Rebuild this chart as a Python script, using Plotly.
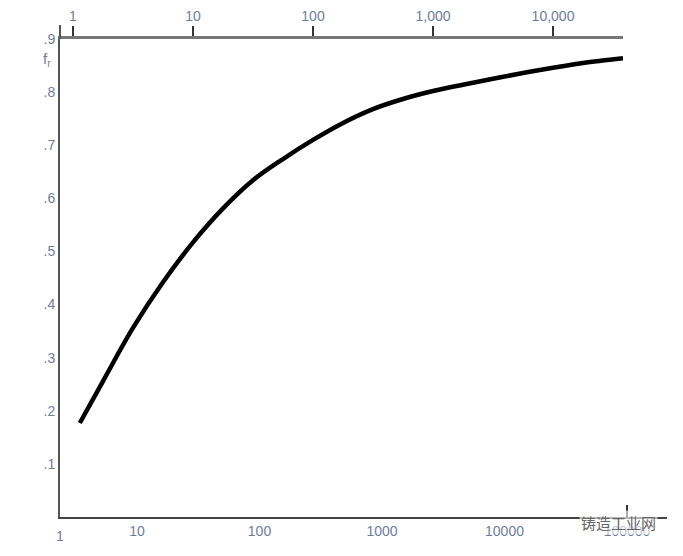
import plotly.graph_objects as go

# Curve data (read against the top log axis)
x_vals = [1.14, 1.78, 3.16, 5.62, 10, 17.8, 31.6, 56.2, 100, 178, 316, 562,
          1000, 1778, 3162, 5623, 10000, 17783, 38300]
f_vals = [0.177, 0.256, 0.356, 0.442, 0.517, 0.581, 0.634, 0.674, 0.710, 0.742,
          0.768, 0.787, 0.802, 0.814, 0.825, 0.836, 0.846, 0.855, 0.864]

y_ticks = [0.1, 0.2, 0.3, 0.4, 0.5, 0.6, 0.7, 0.8, 0.9]
y_ticktext = [".1", ".2", ".3", ".4", ".5", ".6", ".7", ".8", ".9"]
top_ticks = [1, 10, 100, 1000, 10000]
top_ticktext = ["1", "10", "100", "1,000", "10,000"]
bottom_ticks = [10, 100, 1000, 10000, 100000]
bottom_ticktext = ["10", "100", "1000", "10000", "100000"]

label_font = dict(family="Liberation Sans, Arial, sans-serif", size=14, color="#6e7d9c")

fig = go.Figure()
# empty trace to keep the bottom axis subplot
fig.add_trace(go.Scatter(x=[], y=[], xaxis="x", yaxis="y", showlegend=False))
fig.add_trace(go.Scatter(x=x_vals, y=f_vals, xaxis="x2", yaxis="y", mode="lines",
                         line=dict(color="black", width=4.5, shape="spline", smoothing=1.0),
                         showlegend=False, hoverinfo="skip"))

fig.update_layout(
    width=675, height=548,
    margin=dict(l=52, r=16, t=31, b=39),
    paper_bgcolor="white", plot_bgcolor="white",
    xaxis=dict(type="log", range=[0.3714, 5.3265], tickvals=bottom_ticks,
               ticktext=bottom_ticktext, ticks="inside", ticklen=12, tickwidth=2,
               tickcolor="#333", showline=True, linecolor="#444", linewidth=2,
               showgrid=False, zeroline=False, tickfont=label_font, anchor="y",
               automargin=False),
    xaxis2=dict(type="log", range=[-0.1083, 4.5833], domain=[0, 0.9275],
                tickvals=top_ticks, ticktext=top_ticktext, ticks="outside",
                ticklen=10, tickwidth=2, tickcolor="#333", showline=True,
                linecolor="#777", linewidth=2.5, showgrid=False, zeroline=False,
                side="top", anchor="y", tickfont=label_font, automargin=False),
    yaxis=dict(range=[0, 0.9], tickvals=y_ticks, ticktext=y_ticktext,
               ticks="inside", ticklen=16, tickwidth=2, tickcolor="#444",
               showline=True, linecolor="#555", linewidth=2, showgrid=False,
               zeroline=False, tickfont=label_font, anchor="x", automargin=False),
    shapes=[dict(type="line", xref="paper", yref="paper", x0=0, x1=0,
                 y0=1, y1=1 + 14 / 478, line=dict(color="#555", width=2))],
    annotations=[
        dict(text="1", xref="paper", yref="paper", x=0, y=-0.018, showarrow=False,
             xanchor="center", yanchor="top", font=label_font),
        dict(text="f<sub>r</sub>", xref="paper", yref="paper", x=-0.012, y=0.958,
             showarrow=False, xanchor="right", yanchor="middle",
             font=dict(family="Liberation Sans, Arial, sans-serif", size=15,
                       color="#7a78a0")),
        dict(text="铸造工业网", xref="paper", yref="paper", x=0.985, y=-0.012,
             showarrow=False, xanchor="right", yanchor="middle",
             font=dict(family="Noto Sans CJK SC", size=15, color="#666666"),
             bgcolor="rgba(255,255,255,0.6)"),
    ],
)

fig.write_html("out.html")
